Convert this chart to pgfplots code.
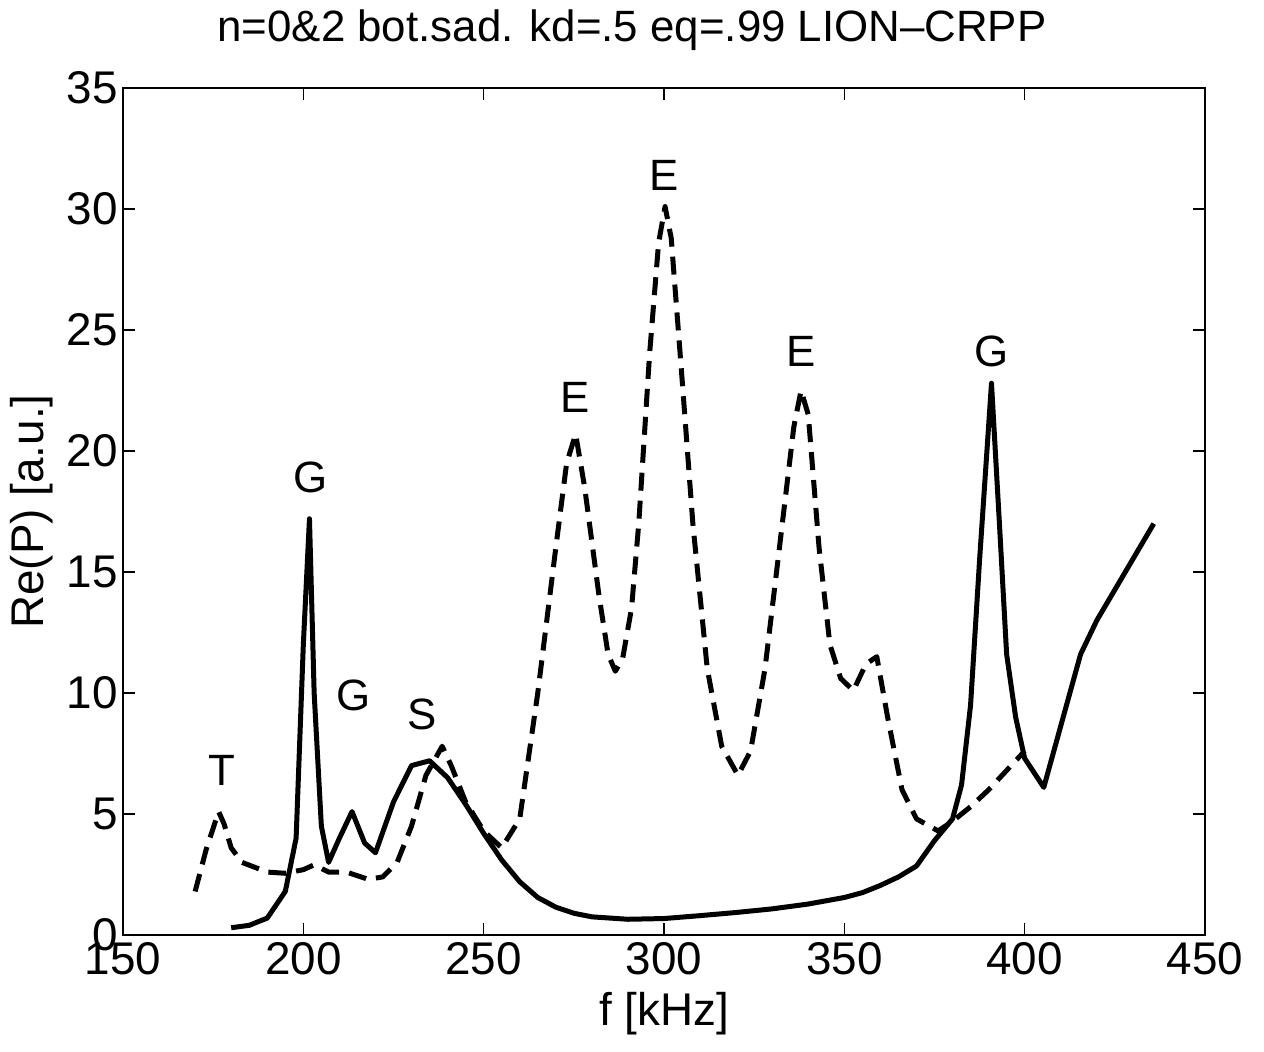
\documentclass[border=0pt]{standalone}
\usepackage{pgfplots}
\pgfplotsset{compat=1.18}
\usepackage{fontspec}
\setmainfont{Liberation Sans}
\begin{document}
\begin{tikzpicture}
\begin{axis}[
  scale only axis,
  width=541bp, height=423.5bp,
  xmin=150, xmax=450, ymin=0, ymax=35,
  xtick={150,200,...,450}, ytick={0,5,...,35},
  tick align=inside, major tick length=6bp,
  axis line style={line width=1bp},
  every tick/.style={line width=0.8bp, black},
  /pgf/number format/assume math mode=true,
  tick label style={font=\fontsize{23}{26}\selectfont},
  yticklabel style={xshift=1bp},
  title={n=0\&2 bot.sad. kd=.5 eq=.99 LION{\textendash}CRPP},
  title style={font=\fontsize{22}{25}\selectfont, at={(axis description cs:0.5,1)}, anchor=center, yshift=23bp, xshift=-16bp},
  xlabel={f [kHz]}, ylabel={Re(P) [a.u.]},
  label style={font=\fontsize{23}{26}\selectfont},
  xlabel style={at={(axis description cs:0.5,0)}, anchor=center, yshift=-39.5bp},
  ylabel style={at={(axis description cs:-0.0841,0.5)}, anchor=center},
  clip=false,
]
\addplot[black, line width=2.5bp, line join=round] coordinates {
(180,0.3)(185,0.4)(190,0.7)(195,1.8)(198,4.0)(200,12)(201.7,17.2)(203,10)(205,4.5)(207,3.0)
(210,4.0)(213.5,5.1)(217,3.8)(220,3.4)(225,5.5)(230,7.0)(235,7.2)(240,6.5)(245,5.4)(250,4.2)
(255,3.1)(260,2.2)(265,1.55)(270,1.15)(275,0.9)(280,0.75)(290,0.65)(300,0.68)(310,0.8)(320,0.93)
(330,1.08)(340,1.28)(350,1.55)(355,1.75)(360,2.05)(365,2.4)(370,2.85)(375,3.9)(380,4.8)(382.5,6.2)
(385,9.5)(387.5,15.5)(390.8,22.8)(393,17)(395,11.6)(397.5,9)(400,7.3)(405.3,6.1)(415.5,11.6)(420,13)
(435.8,17.0)
};
\addplot[black, line width=2.5bp, dash pattern=on 9bp off 5bp, line join=round] coordinates {
(170,1.8)(173,3.5)(176.5,5.1)(178,4.6)(180,3.6)(183,3.0)(190,2.6)(195,2.55)(200,2.7)(203,2.9)
(207,2.6)(212,2.6)(218,2.3)(222,2.4)(226,3.0)(230,4.5)(234,6.6)(238.5,7.8)(241,7.0)(245,5.5)
(250,4.3)(255,3.6)(260,4.8)(265,10)(270,16)(273,19.5)(275.5,20.7)(278,18.5)(282,14)(284.5,11.6)
(286.5,10.9)(288.5,11.4)(291,13.5)(293,17)(296,24)(298.5,28.6)(300.3,30.1)(302,28.8)(305,23)(308,17)(312,11)
(316,7.8)(320.5,6.6)(324,7.6)(328,11)(332,16)(336,21)(338,22.5)(340,21.5)(343,16)(346,12)
(349,10.6)(352.5,10.1)(356,11.2)(359,11.5)(362,9)(366,6)(370,4.8)(376,4.3)(380,4.7)(385,5.3)
(390,6.0)(395,6.8)(400,7.6)
};
\node[font=\fontsize{22}{25}\selectfont] at (axis cs:177.5,6.8) {T};
\node[font=\fontsize{22}{25}\selectfont] at (axis cs:202,18.9) {G};
\node[font=\fontsize{22}{25}\selectfont] at (axis cs:214,9.9) {G};
\node[font=\fontsize{22}{25}\selectfont] at (axis cs:232.8,9.1) {S};
\node[font=\fontsize{22}{25}\selectfont] at (axis cs:275.3,22.2) {E};
\node[font=\fontsize{22}{25}\selectfont] at (axis cs:300,31.4) {E};
\node[font=\fontsize{22}{25}\selectfont] at (axis cs:338,24.1) {E};
\node[font=\fontsize{22}{25}\selectfont] at (axis cs:390.8,24.1) {G};
\end{axis}
\path ([xshift=-61.5bp,yshift=-58.5bp]current axis.south west) rectangle ([xshift=29.5bp,yshift=44bp]current axis.north east);
\end{tikzpicture}
\end{document}
